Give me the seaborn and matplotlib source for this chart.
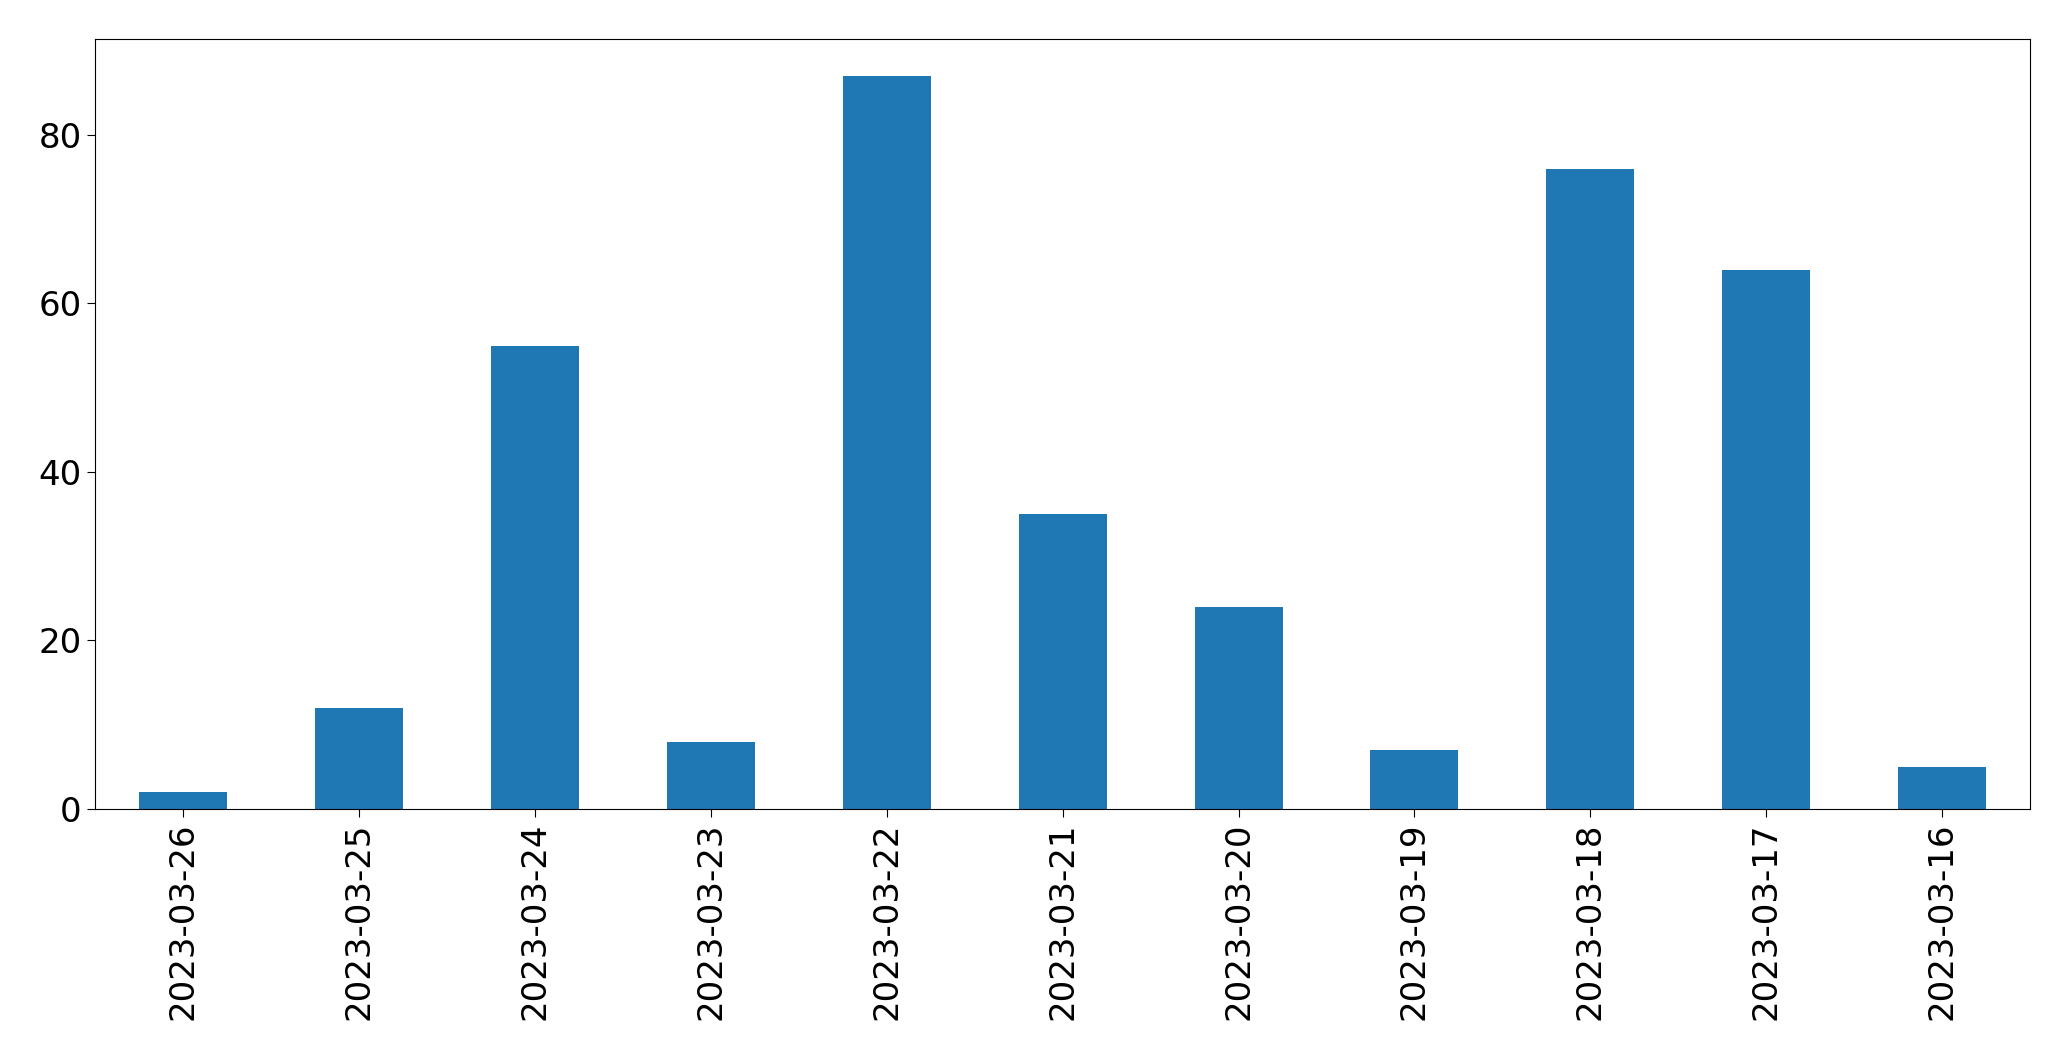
import matplotlib
matplotlib.use("Agg")
import matplotlib.pyplot as plt
import seaborn as sns
import pandas as pd

# Datos
fechas = ['2023-03-26', '2023-03-25', '2023-03-24', '2023-03-23', '2023-03-22',
          '2023-03-21', '2023-03-20', '2023-03-19', '2023-03-18', '2023-03-17',
          '2023-03-16']
valores = [2, 12, 55, 8, 87, 35, 24, 7, 76, 64, 5]

df = pd.DataFrame({'fecha': fechas, 'valor': valores})

fig = plt.figure(figsize=(20.71, 10.61), dpi=100)
ax = fig.add_axes([0.0459, 0.2375, 0.9344, 0.7255])

sns.barplot(data=df, x='fecha', y='valor', color='#1f77b4', saturation=1,
            width=0.5, order=fechas, ax=ax)

ax.set_xlim(-0.5, len(fechas) - 0.5)
ax.set_ylim(0, max(valores) * 1.05)
ax.set_xlabel('')
ax.set_ylabel('')
ax.tick_params(axis='both', labelsize=24.5, length=6)
ax.tick_params(axis='x', labelrotation=90)

fig.savefig('out.png', dpi=100)
